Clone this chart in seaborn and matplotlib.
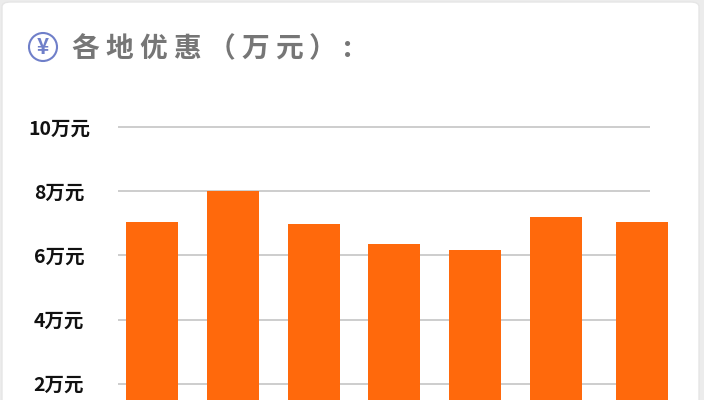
import matplotlib
matplotlib.use('Agg')
import matplotlib.pyplot as plt
from matplotlib.patches import Circle, FancyBboxPatch
import pandas as pd
import seaborn as sns

# the x labels are cut off in the picture, so the regions are only numbered
regions = ['1', '2', '3', '4', '5', '6', '7']
discounts = [7.05, 8.0, 6.97, 6.36, 6.16, 7.2, 7.05]
y_ticks = [2, 4, 6, 8, 10]
y_labels = ['2万元', '4万元', '6万元', '8万元', '10万元']
title_chars = ['各', '地', '优', '惠', '（', '万', '元', '）']

W, H = 704, 400
font_list = ['Noto Sans CJK SC', 'DejaVu Sans']

sns.set_style('white')
plt.rcParams['font.family'] = font_list

df = pd.DataFrame({'region': regions, 'discount': discounts})

fig = plt.figure(figsize=(W / 100, H / 100), dpi=100, facecolor='#ececec')

# white card behind everything
card = FancyBboxPatch((2 / W, -0.1), 697 / W, 1.095, boxstyle='round,pad=0,rounding_size=0.012',
                      transform=fig.transFigure, facecolor='white', edgecolor='#e6e6e6', linewidth=1,
                      zorder=-1)
fig.patches.append(card)

ax = fig.add_axes([118 / W, 0, (650 - 118) / W, 280 / H])
ax.patch.set_alpha(0)
sns.barplot(data=df, x='region', y='discount', ax=ax, color='#ff690c', saturation=1, width=0.645, linewidth=0)

ax.set_xlim(-0.42, 6.163)
ax.set_ylim(1.491, 10.228)
ax.set_yticks(y_ticks)
ax.set_yticklabels(y_labels, fontsize=14, fontweight='bold', color='#111111', ha='center')
ax.tick_params(axis='y', length=0, pad=42.5)
ax.set_xticks([])
ax.set_xlabel('')
ax.set_ylabel('')
ax.yaxis.grid(True, color='#c9c9c9', linewidth=1.3)
ax.set_axisbelow(True)
sns.despine(ax=ax, left=True, bottom=True, right=True, top=True)

# last bar sits a bit further right and passes the end of the grid
for bar in ax.patches:
    bar.set_clip_on(False)
last = ax.patches[-1]
last.set_x(last.get_x() + 0.065)

# title, spaced out one character at a time
for i, ch in enumerate(title_chars):
    fig.text((85 + 34 * i) / W, 1 - 49 / H, ch, fontsize=20, fontweight='bold', color='#767676',
             ha='center', va='center')
fig.text(348 / W, 1 - 49 / H, ':', fontsize=20, fontweight='bold', color='#767676', ha='center', va='center')

# yen icon
icon_ax = fig.add_axes([0, 0, 1, 1], facecolor='none')
icon_ax.set_xlim(0, W)
icon_ax.set_ylim(H, 0)
icon_ax.axis('off')
icon_ax.add_patch(Circle((43, 47), 14, fill=False, edgecolor='#6f7fc9', linewidth=1.5))
icon_ax.text(43, 47, '¥', fontsize=15, fontweight='bold', color='#6f7fc9', ha='center', va='center')

plt.savefig('out.png', dpi=100, facecolor=fig.get_facecolor())
